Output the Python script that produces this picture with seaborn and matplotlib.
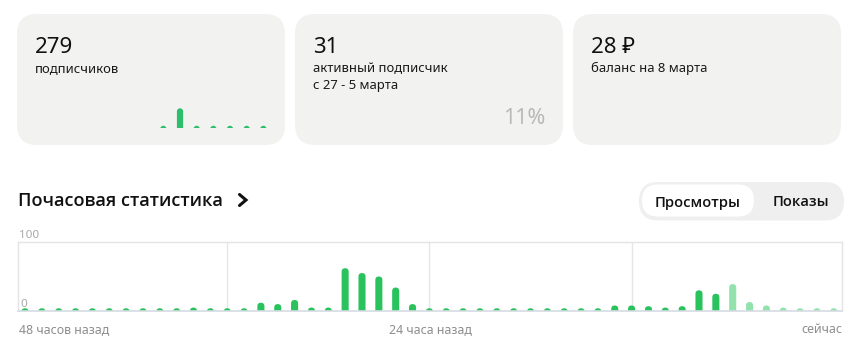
import matplotlib
matplotlib.use("Agg")
import matplotlib.pyplot as plt
from matplotlib.patches import FancyBboxPatch
import pandas as pd
import seaborn as sns

# ---------------- data ----------------
hour_index = list(range(49))
hourly_views = [4, 4, 4, 4, 4, 4, 4, 4, 4, 4, 5, 4, 4, 4, 12, 10, 16, 5, 5,
                62, 55, 50, 34, 10, 4, 4, 4, 4, 4, 4, 4, 4, 4, 4, 4, 8, 8,
                7, 5, 7, 30, 25, 39, 13, 8, 5, 4, 4, 4]
hour_status = ["final"] * 42 + ["partial"] * 7
status_colors = {"final": "#2ac25d", "partial": "#93e2ae"}

mini_days = list(range(7))
mini_subscribers = [1, 10, 1, 1, 1, 1, 1]

card_values = ["279", "31", "28 ₽"]
card_captions = ["подписчиков", "активный подписчик\nс 27 - 5 марта", "баланс на 8 марта"]
active_share = "11%"

chart_title = "Почасовая статистика"
toggle_labels = ["Просмотры", "Показы"]
y_tick_labels = ["100", "0"]
x_tick_labels = ["48 часов назад", "24 часа назад", "сейчас"]
grid_hours = [12, 24, 36]
y_max = 100

# ---------------- style ----------------
sns.set_style("white")
plt.rcParams["font.family"] = ["Noto Sans", "DejaVu Sans"]

W, H = 867, 352
fig = plt.figure(figsize=(W / 100, H / 100), dpi=100)
fig.patch.set_facecolor("white")

bg = fig.add_axes([0, 0, 1, 1], zorder=0)
bg.set_xlim(0, W)
bg.set_ylim(H, 0)
bg.axis("off")


def px_axes(x0, y0, x1, y1, **kw):
    return fig.add_axes([x0 / W, (H - y1) / H, (x1 - x0) / W, (y1 - y0) / H], **kw)


def round_bars(ax):
    bbox = ax.get_position()
    pw = bbox.width * W
    ph = bbox.height * H
    xa, xb = ax.get_xlim()
    ya, yb = ax.get_ylim()
    aspect = ((yb - ya) / ph) / ((xb - xa) / pw)
    for p in list(ax.patches):
        x, w, h = p.get_x(), p.get_width(), p.get_height()
        fc = p.get_facecolor()
        p.remove()
        r = w / 2
        ry = r * aspect
        nb = FancyBboxPatch((x, -2 * ry), w, h + 2 * ry,
                            boxstyle=f"round,pad=0,rounding_size={r}",
                            mutation_aspect=aspect, fc=fc, ec="none", lw=0)
        ax.add_patch(nb)
    ax.set_xlim(xa, xb)
    ax.set_ylim(ya, yb)


# ---------------- cards ----------------
card_x = [17, 295, 573]
card_w = 269
for cx in card_x:
    bg.add_patch(FancyBboxPatch((cx, 14), card_w - 1, 131,
                                boxstyle="round,pad=0,rounding_size=20",
                                fc="#f2f2f1", ec="none"))

for cx, val, cap in zip(card_x, card_values, card_captions):
    bg.text(cx + 18, 53, val, fontsize=16, color="#111111", va="baseline", ha="left")
    lines = cap.split("\n")
    for i, ln in enumerate(lines):
        bg.text(cx + 18, 72 + i * 17, ln, fontsize=9.4, color="#1a1a1a",
                va="baseline", ha="left")

bg.text(545, 124, active_share, fontsize=15.5, color="#b9b9b9",
        va="baseline", ha="right", fontweight="light")

# mini chart in first card
mini_df = pd.DataFrame({"day": mini_days, "subs": mini_subscribers})
mx = px_axes(150, 95, 276, 127.7, zorder=2)
sns.barplot(data=mini_df, x="day", y="subs", color="#2cbe6a", width=0.37,
            saturation=1, ax=mx)
mx.set_xlim(-0.8, -0.8 + 126 / 16.67)
mx.set_ylim(0, 10 * 32.7 / 19.4)
round_bars(mx)
mx.axis("off")
mx.patch.set_alpha(0)

# ---------------- title + toggle ----------------
bg.text(18, 206.5, chart_title, fontsize=13.1, fontweight="semibold",
        family=["Open Sans", "DejaVu Sans"],
        color="#111111", va="baseline", ha="left")
bg.plot([239.5, 246, 239.5], [194.5, 200, 205.5], color="#111111", lw=2.2,
        solid_capstyle="round", solid_joinstyle="miter")

bg.add_patch(FancyBboxPatch((639, 182), 205, 38.5,
                            boxstyle="round,pad=0,rounding_size=19",
                            fc="#efefef", ec="none"))
bg.add_patch(FancyBboxPatch((642, 184.5), 112, 32,
                            boxstyle="round,pad=0,rounding_size=16",
                            fc="white", ec="none"))
bg.text(698, 206.5, toggle_labels[0], fontsize=10.6, fontweight="semibold",
        family=["Open Sans", "DejaVu Sans"],
        color="#111111", va="baseline", ha="center")
bg.text(801, 206.5, toggle_labels[1], fontsize=10.6, fontweight="semibold",
        family=["Open Sans", "DejaVu Sans"],
        color="#111111", va="baseline", ha="center")

# ---------------- main chart ----------------
df = pd.DataFrame({"hour": hour_index, "views": hourly_views, "status": hour_status})
ax = px_axes(18, 242, 842, 311, zorder=2)
sns.barplot(data=df, x="hour", y="views", hue="status", palette=status_colors,
            dodge=False, width=0.42, saturation=1, legend=False, ax=ax)
spacing = 16.85
ax.set_xlim(-7 / spacing, -7 / spacing + 824 / spacing)
ax.set_ylim(0, y_max)
round_bars(ax)
ax.set_xticks(grid_hours)
ax.set_xticklabels([])
ax.set_yticks([])
ax.tick_params(length=0)
ax.set_xlabel("")
ax.set_ylabel("")
ax.grid(axis="x", color="#e6e6e6", lw=1)
ax.set_axisbelow(True)
for s in ["top", "left", "right"]:
    ax.spines[s].set_color("#e4e4e4")
    ax.spines[s].set_linewidth(1)
ax.spines["bottom"].set_color("#d6dbe4")
ax.spines["bottom"].set_linewidth(1.2)

bg.text(18.5, 238, y_tick_labels[0], fontsize=8.4, color="#a9a9a9",
        va="baseline", ha="left")
fig.text(20 / W, 1 - 307 / H, y_tick_labels[1], fontsize=8.4, color="#a9a9a9",
         va="baseline", ha="left", zorder=10)

bg.text(19, 333, x_tick_labels[0], fontsize=8.9, color="#8e8e8e", va="baseline", ha="left")
bg.text(430, 333, x_tick_labels[1], fontsize=8.9, color="#8e8e8e", va="baseline", ha="center")
bg.text(842, 333, x_tick_labels[2], fontsize=8.9, color="#8e8e8e", va="baseline", ha="right")

fig.savefig("out.png", dpi=100)
